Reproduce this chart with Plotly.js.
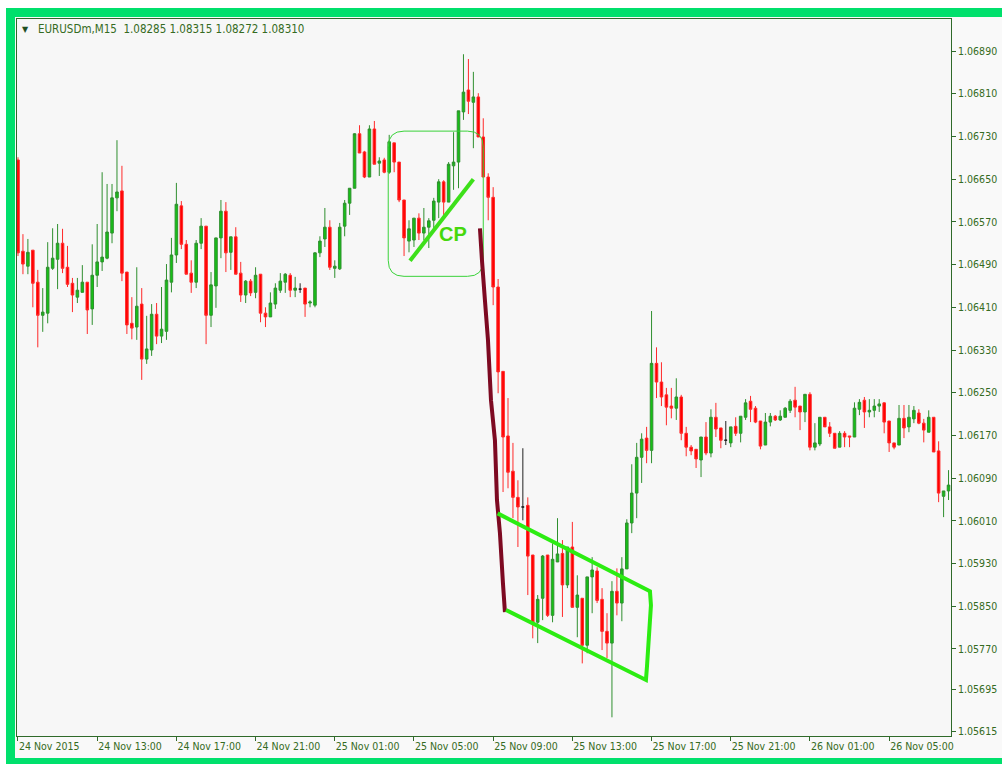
<!DOCTYPE html>
<html><head><meta charset="utf-8">
<script src="https://cdn.plot.ly/plotly-3.0.1.min.js"></script>
<style>
html,body{margin:0;padding:0;background:#fff;}
#wrap{position:relative;width:1002px;height:764px;overflow:hidden;}
#chart{position:absolute;left:0;top:0;width:1002px;height:764px;}
.band{position:absolute;background:#00e06c;pointer-events:none;}
.white{position:absolute;background:#fff;pointer-events:none;}
</style></head><body>
<div id="wrap">
<div id="chart"></div>
<div class="white" style="left:0;top:0;width:1002px;height:8px"></div>
<div class="white" style="left:0;top:0;width:6px;height:764px"></div>
<div class="band" style="left:6px;top:8px;width:996px;height:9px"></div>
<div class="band" style="left:6px;top:8px;width:9px;height:756px"></div>
<div class="band" style="left:6px;top:758px;width:996px;height:6px"></div>
</div>
<script>
// EURUSDm M15 candles, 24 Nov 2015 09:00 -> 26 Nov 2015 08:00
const symbolTitle = "EURUSDm,M15\u00a0\u00a01.08285 1.08315 1.08272 1.08310";
const xTickLabels = ["24 Nov 2015","24 Nov 13:00","24 Nov 17:00","24 Nov 21:00","25 Nov 01:00","25 Nov 05:00","25 Nov 09:00","25 Nov 13:00","25 Nov 17:00","25 Nov 21:00","26 Nov 01:00","26 Nov 05:00"];
const yTickValues = [1.06890,1.06810,1.06730,1.06650,1.06570,1.06490,1.06410,1.06330,1.06250,1.06170,1.06090,1.06010,1.05930,1.05850,1.05770,1.05695,1.05615];

const open = [
1.06686,1.06515,1.06487,1.06517,1.06457,1.06395,1.06399,1.06483,1.06500,1.06530,
1.06485,1.06455,1.06429,1.06438,1.06457,1.06407,1.06470,1.06495,1.06502,1.06549,
1.06615,1.06628,1.06476,1.06380,1.06373,1.06416,1.06313,1.06330,1.06397,1.06356,
1.06365,1.06457,1.06508,1.06600,1.06528,1.06474,1.06457,1.06530,1.06562,1.06395,
1.06450,1.06540,1.06590,1.06513,1.06542,1.06474,1.06433,1.06459,1.06438,1.06472,
1.06399,1.06392,1.06416,1.06442,1.06457,1.06470,1.06442,1.06444,1.06446,1.06418,
1.06414,1.06512,1.06538,1.06560,1.06483,1.06482,1.06562,1.06605,1.06633,1.06735,
1.06701,1.06654,1.06744,1.06680,1.06686,1.06663,1.06718,1.06682,1.06611,1.06534,
1.06536,1.06577,1.06549,1.06560,1.06573,1.06607,1.06645,1.06607,1.06675,1.06682,
1.06776,1.06817,1.06794,1.06804,1.06729,1.06654,1.06616,1.06448,1.06290,1.06169,
1.06103,1.06054,1.06036,1.06039,1.05946,1.05820,1.05865,1.05946,1.05833,1.05933,
1.05949,1.05890,1.05961,1.05848,1.05865,1.05777,1.05905,1.05916,1.05863,1.05803,
1.05781,1.05878,1.05856,1.05920,1.06006,1.06062,1.06129,1.06165,1.06142,1.06305,
1.06270,1.06246,1.06225,1.06221,1.06242,1.06174,1.06148,1.06144,1.06124,1.06167,
1.06137,1.06204,1.06184,1.06161,1.06156,1.06187,1.06174,1.06204,1.06234,1.06221,
1.06197,1.06152,1.06195,1.06206,1.06199,1.06204,1.06217,1.06236,1.06225,1.06214,
1.06247,1.06148,1.06154,1.06204,1.06186,1.06174,1.06148,1.06174,1.06169,1.06167,
1.06219,1.06236,1.06214,1.06217,1.06225,1.06231,1.06197,1.06156,1.06152,1.06202,
1.06186,1.06201,1.06212,1.06193,1.06176,1.06204,1.06141,1.06056,1.06066];

const high = [
1.06691,1.06547,1.06538,1.06517,1.06480,1.06446,1.06532,1.06558,1.06566,1.06557,
1.06525,1.06465,1.06465,1.06489,1.06457,1.06528,1.06566,1.06663,1.06641,1.06641,
1.06723,1.06675,1.06476,1.06429,1.06485,1.06446,1.06394,1.06416,1.06418,1.06448,
1.06491,1.06540,1.06643,1.06609,1.06536,1.06498,1.06536,1.06577,1.06562,1.06476,
1.06540,1.06611,1.06607,1.06542,1.06560,1.06495,1.06461,1.06463,1.06485,1.06472,
1.06410,1.06438,1.06455,1.06474,1.06474,1.06474,1.06467,1.06455,1.06446,1.06423,
1.06513,1.06543,1.06596,1.06573,1.06498,1.06568,1.06611,1.06633,1.06736,1.06751,
1.06703,1.06751,1.06759,1.06691,1.06690,1.06733,1.06718,1.06682,1.06611,1.06573,
1.06577,1.06586,1.06596,1.06577,1.06615,1.06650,1.06648,1.06682,1.06738,1.06778,
1.06884,1.06875,1.06851,1.06811,1.06764,1.06661,1.06635,1.06463,1.06290,1.06240,
1.06156,1.06086,1.06146,1.06054,1.05946,1.05871,1.05946,1.05946,1.05968,1.06015,
1.05974,1.05961,1.06008,1.05908,1.05865,1.05905,1.05942,1.05923,1.05884,1.05837,
1.05897,1.05921,1.05942,1.06013,1.06116,1.06156,1.06174,1.06186,1.06403,1.06335,
1.06307,1.06259,1.06259,1.06277,1.06246,1.06186,1.06152,1.06144,1.06167,1.06195,
1.06219,1.06231,1.06184,1.06197,1.06186,1.06204,1.06206,1.06238,1.06244,1.06225,
1.06197,1.06212,1.06212,1.06208,1.06217,1.06223,1.06238,1.06261,1.06225,1.06247,
1.06251,1.06193,1.06204,1.06204,1.06195,1.06174,1.06178,1.06178,1.06169,1.06232,
1.06238,1.06242,1.06238,1.06238,1.06238,1.06232,1.06197,1.06156,1.06227,1.06227,
1.06227,1.06225,1.06219,1.06201,1.06217,1.06204,1.06159,1.06066,1.06105];

const low = [
1.06506,1.06472,1.06472,1.06410,1.06335,1.06364,1.06380,1.06480,1.06444,1.06474,
1.06448,1.06401,1.06418,1.06438,1.06360,1.06377,1.06448,1.06478,1.06500,1.06530,
1.06590,1.06459,1.06360,1.06350,1.06349,1.06274,1.06304,1.06319,1.06341,1.06343,
1.06349,1.06438,1.06493,1.06519,1.06472,1.06437,1.06446,1.06519,1.06341,1.06373,
1.06409,1.06502,1.06476,1.06480,1.06472,1.06420,1.06418,1.06431,1.06427,1.06382,
1.06373,1.06392,1.06407,1.06437,1.06437,1.06429,1.06429,1.06437,1.06392,1.06410,
1.06410,1.06504,1.06523,1.06480,1.06465,1.06480,1.06543,1.06583,1.06633,1.06699,
1.06652,1.06654,1.06678,1.06656,1.06661,1.06660,1.06663,1.06607,1.06506,1.06513,
1.06523,1.06536,1.06536,1.06521,1.06558,1.06577,1.06583,1.06607,1.06630,1.06633,
1.06761,1.06772,1.06708,1.06729,1.06654,1.06573,1.06414,1.06249,1.06064,1.06071,
1.06015,1.05961,1.06011,1.05871,1.05790,1.05781,1.05824,1.05830,1.05820,1.05933,
1.05830,1.05884,1.05848,1.05792,1.05743,1.05762,1.05837,1.05856,1.05768,1.05753,
1.05642,1.05833,1.05822,1.05920,1.05987,1.06015,1.06081,1.06118,1.06118,1.06240,
1.06225,1.06189,1.06202,1.06199,1.06161,1.06131,1.06133,1.06109,1.06092,1.06133,
1.06129,1.06167,1.06146,1.06152,1.06148,1.06169,1.06157,1.06199,1.06195,1.06193,
1.06144,1.06152,1.06187,1.06197,1.06197,1.06204,1.06212,1.06204,1.06180,1.06195,
1.06142,1.06142,1.06150,1.06186,1.06167,1.06146,1.06148,1.06148,1.06148,1.06167,
1.06208,1.06184,1.06204,1.06204,1.06214,1.06174,1.06139,1.06144,1.06152,1.06165,
1.06176,1.06193,1.06191,1.06157,1.06176,1.06139,1.06045,1.06017,1.06049];

const close = [
1.06512,1.06491,1.06513,1.06455,1.06395,1.06401,1.06485,1.06502,1.06530,1.06483,
1.06453,1.06433,1.06442,1.06457,1.06405,1.06470,1.06495,1.06504,1.06551,1.06615,
1.06626,1.06474,1.06377,1.06371,1.06412,1.06313,1.06332,1.06397,1.06356,1.06369,
1.06461,1.06508,1.06603,1.06528,1.06472,1.06457,1.06530,1.06562,1.06395,1.06452,
1.06540,1.06590,1.06512,1.06542,1.06472,1.06433,1.06459,1.06437,1.06470,1.06399,
1.06392,1.06418,1.06446,1.06459,1.06472,1.06442,1.06446,1.06444,1.06416,1.06420,
1.06512,1.06534,1.06560,1.06485,1.06487,1.06560,1.06605,1.06633,1.06735,1.06699,
1.06654,1.06744,1.06678,1.06684,1.06663,1.06720,1.06682,1.06611,1.06540,1.06557,
1.06577,1.06549,1.06560,1.06572,1.06609,1.06645,1.06607,1.06678,1.06682,1.06778,
1.06813,1.06796,1.06804,1.06729,1.06654,1.06616,1.06448,1.06289,1.06167,1.06101,
1.06054,1.06036,1.06036,1.05944,1.05820,1.05863,1.05944,1.05833,1.05938,1.05948,
1.05890,1.05961,1.05848,1.05871,1.05777,1.05905,1.05918,1.05861,1.05803,1.05781,
1.05878,1.05856,1.05920,1.06006,1.06062,1.06129,1.06163,1.06142,1.06305,1.06270,
1.06242,1.06223,1.06221,1.06242,1.06174,1.06148,1.06141,1.06126,1.06167,1.06137,
1.06204,1.06182,1.06161,1.06161,1.06186,1.06174,1.06206,1.06231,1.06219,1.06195,
1.06150,1.06195,1.06206,1.06199,1.06206,1.06221,1.06234,1.06223,1.06214,1.06247,
1.06148,1.06156,1.06204,1.06186,1.06174,1.06146,1.06174,1.06167,1.06167,1.06221,
1.06232,1.06214,1.06217,1.06225,1.06229,1.06195,1.06156,1.06148,1.06202,1.06184,
1.06204,1.06217,1.06193,1.06180,1.06204,1.06139,1.06062,1.06066,1.06077];

// drawn analysis objects (bar index, price)
const cpBox = {x0:74.8, x1:94.0, y0:1.06468, y1:1.06740, rx:3.2, ry:0.00030};
const cpLine = {x:[79.2, 92.0], y:[1.06497, 1.06650]};
const cpLabel = {x:87.8, y:1.06547, text:"CP"};
const dropLine = {x:[93.33,93.74,94.34,94.95,95.56,96.36,96.77,97.37,97.98,98.38],
                  y:[1.06558,1.06498,1.06423,1.06349,1.06236,1.06161,1.06049,1.05987,1.05893,1.05839]};
const channel = {x:[96.91,127.68,127.88,127.07,126.87,98.59],
                 y:[1.06024,1.05878,1.05852,1.05736,1.05712,1.05843]};

const barsPerLabel = 16;
const idx = open.map((_, i) => i);
const norm = idx.filter(i => open[i] !== close[i]);
const doji = idx.filter(i => open[i] === close[i]);
const pick = (arr, sel) => sel.map(i => arr[i]);

const traces = [
  {type:'candlestick', x:norm, open:pick(open,norm), high:pick(high,norm), low:pick(low,norm), close:pick(close,norm),
   increasing:{line:{color:'#2f8f2f', width:1}, fillcolor:'#16c016'},
   decreasing:{line:{color:'#ff2a2a', width:1}, fillcolor:'#ff0000'},
   hoverinfo:'skip', showlegend:false},
  {type:'candlestick', x:doji, open:pick(open,doji), high:pick(high,doji), low:pick(low,doji), close:pick(close,doji),
   increasing:{line:{color:'#222222', width:1}, fillcolor:'#222222'},
   decreasing:{line:{color:'#222222', width:1}, fillcolor:'#222222'},
   hoverinfo:'skip', showlegend:false}
];

function roundRectPath(b){
  const {x0,x1,y0,y1,rx,ry} = b;
  return `M${x0+rx},${y1} L${x1-rx},${y1} Q${x1},${y1} ${x1},${y1-ry} L${x1},${y0+ry} Q${x1},${y0} ${x1-rx},${y0} ` +
         `L${x0+rx},${y0} Q${x0},${y0} ${x0},${y0+ry} L${x0},${y1-ry} Q${x0},${y1} ${x0+rx},${y1} Z`;
}
function polyPath(p){
  return p.x.map((x,i)=>(i?'L':'M')+x+','+p.y[i]).join(' ');
}

const axisColor = '#2f6a2a';
const textColor = '#356b22';
const font = {family:"Tahoma, 'DejaVu Sans Condensed', 'DejaVu Sans', sans-serif", size:10.5, color:textColor};
const headFont = {family:"Tahoma, 'DejaVu Sans Condensed', 'DejaVu Sans', sans-serif", size:11.5, color:textColor};

const layout = {
  width:1002, height:764,
  margin:{l:17, r:51, t:19, b:28, pad:0},
  paper_bgcolor:'#f9f9f9', plot_bgcolor:'#f7f7f7',
  font:font, showlegend:false, boxgap:0.26,
  xaxis:{
    type:'linear', range:[-0.2, 188.5], showgrid:false, zeroline:false,
    showline:true, mirror:true, linecolor:axisColor, linewidth:1,
    ticks:'outside', ticklen:4, tickcolor:axisColor, tickwidth:1,
    tickmode:'array', tickvals:xTickLabels.map((_,i)=>i*barsPerLabel), ticktext:xTickLabels,
    ticklabelposition:'outside right', tickfont:font,
    rangeslider:{visible:false}, fixedrange:true
  },
  yaxis:{
    side:'right', range:[1.05607, 1.06950], showgrid:false, zeroline:false,
    showline:true, mirror:true, linecolor:axisColor, linewidth:1,
    ticks:'outside', ticklen:4, tickcolor:axisColor, tickwidth:1,
    tickmode:'array', tickvals:yTickValues, ticktext:yTickValues.map(v=>v.toFixed(5)),
    tickfont:font, fixedrange:true
  },
  shapes:[
    {type:'path', xref:'x', yref:'y', path:roundRectPath(cpBox), line:{color:'#3ad23a', width:1}, fillcolor:'rgba(0,0,0,0)'},
    {type:'line', xref:'x', yref:'y', x0:cpLine.x[0], y0:cpLine.y[0], x1:cpLine.x[1], y1:cpLine.y[1], line:{color:'#3de01a', width:4}},
    {type:'path', xref:'x', yref:'y', path:polyPath(dropLine), line:{color:'#7d0a22', width:4}},
    {type:'path', xref:'x', yref:'y', path:polyPath(channel), line:{color:'#2cec12', width:4}}
  ],
  annotations:[
    {xref:'x', yref:'y', x:cpLabel.x, y:cpLabel.y, text:'<b>'+cpLabel.text+'</b>', showarrow:false,
     font:{family:"'Liberation Sans', Arial, sans-serif", size:20, color:'#46d80c'}},
    {xref:'paper', yref:'paper', x:0.0086, y:0.986, xanchor:'center', yanchor:'middle', text:'\u25BC', showarrow:false,
     font:{family:"'DejaVu Sans', sans-serif", size:8, color:'#1f4f1f'}},
    {xref:'paper', yref:'paper', x:0.0203, y:0.986, xanchor:'left', yanchor:'middle', text:symbolTitle, showarrow:false,
     font:headFont}
  ]
};

Plotly.newPlot('chart', traces, layout, {staticPlot:true, displayModeBar:false});
</script>
</body></html>
